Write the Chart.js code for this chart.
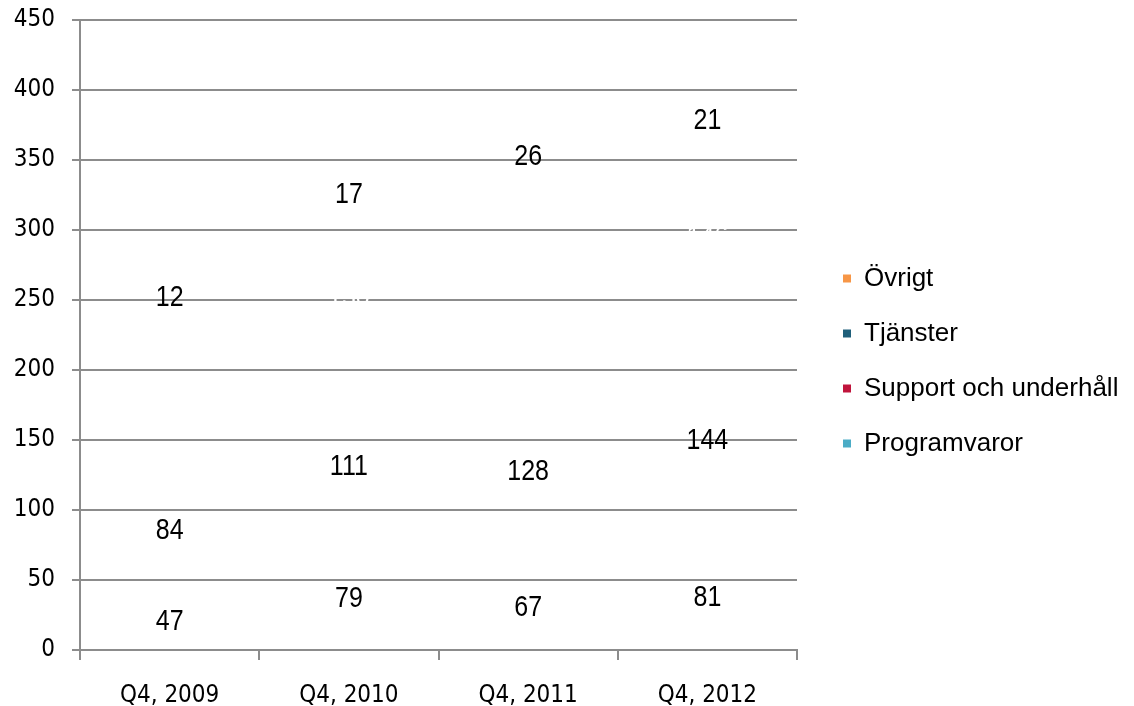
<!DOCTYPE html>
<html>
<head>
<meta charset="utf-8">
<script src="https://cdn.jsdelivr.net/npm/chart.js@4/dist/chart.umd.min.js"></script>
<style>
  html, body { margin: 0; padding: 0; background: #fff; }
  #wrap { width: 1134px; height: 706px; position: relative; }
</style>
</head>
<body>
<div id="wrap"><canvas id="chart"></canvas></div>
<script>
  const categories = ['Q4, 2009', 'Q4, 2010', 'Q4, 2011', 'Q4, 2012'];
  const programvaror = [47, 79, 67, 81];
  const support = [84, 111, 128, 144];
  const tjanster = [118, 130, 148, 146];
  const ovrigt = [12, 17, 26, 21];
  const seriesNames = ['Programvaror', 'Support och underhåll', 'Tjänster', 'Övrigt'];
  const seriesColors = ['#4bacc6', '#c0143c', '#1f5f7a', '#f79646'];
  const labelColors = ['#000', '#000', '#fff', '#000'];

  const GRID = '#8c8c8c';
  const LEGEND_WIDTH = 337;
  const LEGEND_SHIFT_X = 17;
  const LEGEND_SHIFT_Y = -2;
  const LABEL_DY = 5;
  const LABEL_STRETCH = 1.2;

  // bars have no fill in the original, only the value labels show
  const valueLabels = {
    id: 'valueLabels',
    afterDatasetsDraw(chart) {
      const ctx = chart.ctx;
      chart.data.datasets.forEach((ds, i) => {
        const meta = chart.getDatasetMeta(i);
        meta.data.forEach((bar, j) => {
          const p = bar.getProps(['x', 'y', 'base'], true);
          ctx.save();
          ctx.font = '25px "Liberation Sans", Arial, sans-serif';
          ctx.textAlign = 'center';
          ctx.textBaseline = 'middle';
          ctx.fillStyle = labelColors[i];
          ctx.translate(p.x, (p.y + p.base) / 2 + LABEL_DY);
          ctx.scale(1, LABEL_STRETCH);
          ctx.fillText(String(ds.data[j]), 0, 0);
          ctx.restore();
        });
      });
    },
  };

  // legend sits a bit away from the plot, with a fixed width
  const legendPlacement = {
    id: 'legendPlacement',
    beforeLayout(chart) {
      const lg = chart.legend;
      if (lg && !lg._fixedWidth) {
        const fit = lg.fit.bind(lg);
        lg.fit = function () {
          fit();
          this.width = LEGEND_WIDTH;
        };
        lg._fixedWidth = true;
      }
    },
    afterLayout(chart) {
      const lg = chart.legend;
      if (!lg) return;
      lg.left += LEGEND_SHIFT_X;
      lg.top += LEGEND_SHIFT_Y;
      lg.bottom += LEGEND_SHIFT_Y;
    },
  };

  const allData = [programvaror, support, tjanster, ovrigt];

  new Chart(document.getElementById('chart'), {
    type: 'bar',
    data: {
      labels: categories,
      datasets: allData.map((d, i) => ({
        label: seriesNames[i],
        data: d,
        backgroundColor: 'rgba(0,0,0,0)',
        borderWidth: 0,
      })),
    },
    options: {
      responsive: true,
      maintainAspectRatio: false,
      animation: false,
      layout: { autoPadding: false, padding: { left: 10, top: 20, right: 0, bottom: 0 } },
      plugins: {
        tooltip: { enabled: false },
        legend: {
          position: 'right',
          reverse: true,
          labels: {
            boxWidth: 8,
            boxHeight: 8,
            padding: 29,
            color: '#000',
            font: { size: 26, family: '"Liberation Sans", Arial, sans-serif' },
            generateLabels: (chart) => chart.data.datasets.map((ds, i) => ({
              text: ds.label,
              fillStyle: seriesColors[i],
              strokeStyle: seriesColors[i],
              lineWidth: 0,
              datasetIndex: i,
              hidden: false,
              fontColor: '#000',
            })),
          },
        },
      },
      scales: {
        x: {
          stacked: true,
          afterFit: (scale) => { scale.height = 56; },
          grid: { offset: true, drawOnChartArea: false, drawTicks: true, tickLength: 10, color: GRID, lineWidth: 2 },
          border: { color: GRID, width: 2 },
          ticks: {
            color: '#000',
            padding: 24,
            font: { size: 24, lineHeight: 1, family: '"DejaVu Sans Condensed", "Liberation Sans Narrow", sans-serif' },
          },
        },
        y: {
          stacked: true,
          min: 0,
          max: 450,
          afterFit: (scale) => {
            scale.width = 70;
            scale.paddingTop = 0;
            scale.paddingBottom = 0;
          },
          ticks: {
            stepSize: 50,
            color: '#000',
            padding: 17,
            font: { size: 24, family: '"DejaVu Sans Condensed", "DejaVu Sans", sans-serif' },
          },
          grid: { color: GRID, lineWidth: 2, tickLength: 8 },
          border: { color: GRID, width: 2 },
        },
      },
    },
    plugins: [valueLabels, legendPlacement],
  });
</script>
</body>
</html>
